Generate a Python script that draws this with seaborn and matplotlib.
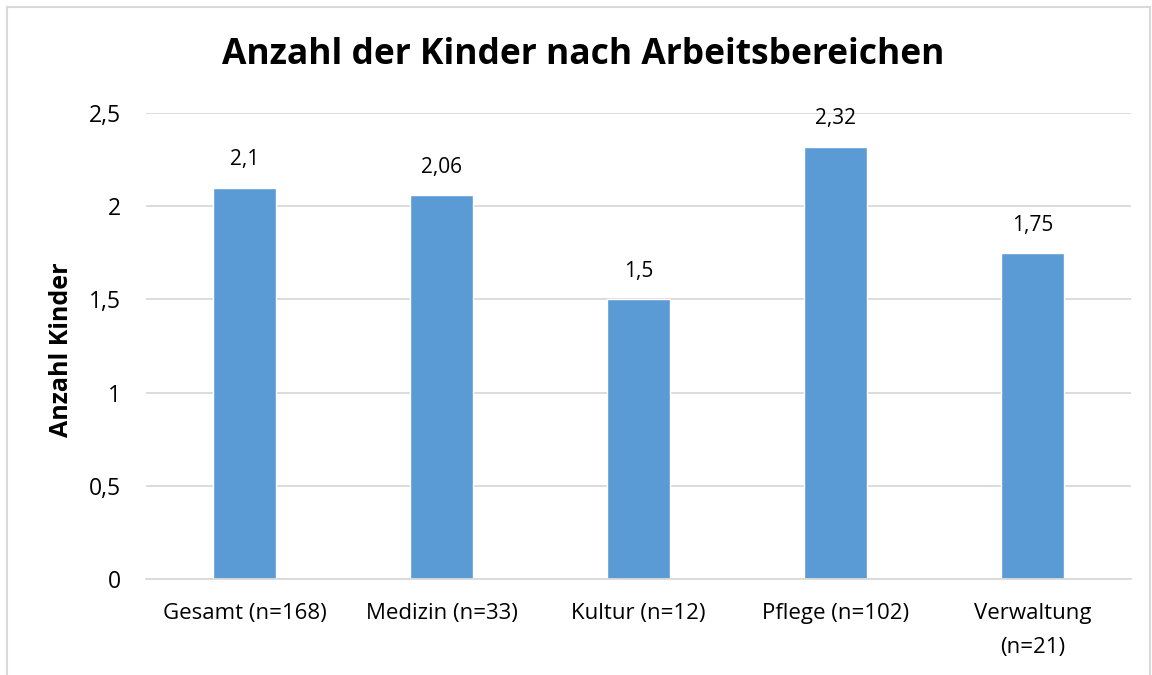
import matplotlib
matplotlib.use("Agg")
import matplotlib.pyplot as plt
import seaborn as sns
import pandas as pd
from matplotlib.patches import Rectangle

categories = ["Gesamt (n=168)", "Medizin (n=33)", "Kultur (n=12)", "Pflege (n=102)", "Verwaltung\n(n=21)"]
values = [2.1, 2.06, 1.5, 2.32, 1.75]
value_labels = ["2,1", "2,06", "1,5", "2,32", "1,75"]
yticks = [0, 0.5, 1, 1.5, 2, 2.5]
ytick_labels = ["0", "0,5", "1", "1,5", "2", "2,5"]

sns.set_style("white")
plt.rcParams['font.family'] = ['Open Sans', 'DejaVu Sans']
plt.rcParams['text.color'] = '#000000'
plt.rcParams['axes.labelcolor'] = '#000000'
plt.rcParams['xtick.color'] = '#000000'
plt.rcParams['ytick.color'] = '#000000'

df = pd.DataFrame({"cat": categories, "val": values})

fig = plt.figure(figsize=(11.52, 6.75), dpi=100)
ax = fig.add_axes([146/1152, 1-579/675, (1131-146)/1152, (579-113)/675])

sns.barplot(data=df, x="cat", y="val", color="#5B9BD5", saturation=1, width=0.315, ax=ax)

ax.set_ylim(0, 2.5)
ax.set_xlim(-0.5, len(categories)-0.5)
ax.set_yticks(yticks)
ax.set_yticklabels(ytick_labels, fontsize=16.5)
ax.tick_params(axis="x", labelsize=16, length=0, pad=17)
ax.tick_params(axis="y", length=0, pad=18)
for t in ax.get_xticklabels():
    t.set_linespacing(1.85)
ax.grid(axis="y", color="#D9D9D9", linewidth=1.3)
ax.set_axisbelow(True)
for s in ["top", "right", "left"]:
    ax.spines[s].set_visible(False)
ax.spines["bottom"].set_color("#D9D9D9")
ax.spines["bottom"].set_linewidth(1.3)
ax.set_xlabel("")
ax.set_ylabel("")
fig.text(62/1152, 1-350/675, "Anzahl Kinder", rotation=90, ha="center", va="center",
         fontsize=18, fontweight="bold")

for i, (v, lab) in enumerate(zip(values, value_labels)):
    ax.annotate(lab, (i, v), xytext=(0, 20), textcoords="offset points",
                ha="center", va="center", fontsize=15)

fig.text(583/1152, 1-55/675, "Anzahl der Kinder nach Arbeitsbereichen", ha="center", va="center",
         fontsize=25.5, fontweight="bold")

fig.patches.append(Rectangle((7/1152, -0.05), (1150-7)/1152, 1-7/675+0.05, transform=fig.transFigure,
                             fill=False, edgecolor="#D9D9D9", linewidth=1.5))

fig.savefig("out.png", dpi=100)
